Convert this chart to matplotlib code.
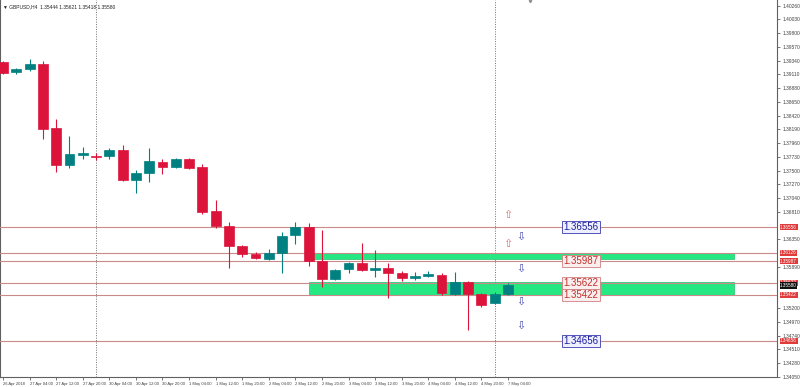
import numpy as np
import matplotlib
matplotlib.use("Agg")
import matplotlib.pyplot as plt
import matplotlib.transforms as mtransforms

plt.rcParams['font.family'] = ['Liberation Sans', 'DejaVu Sans']

# -----------------------------
# GBPUSD H4 candles
# -----------------------------
opens = [1.39316, 1.39149, 1.39199, 1.39282, 1.38213, 1.37595, 1.37762, 1.37745,
         1.37745, 1.37845, 1.37344, 1.37461, 1.37645, 1.37561, 1.37695, 1.37561,
         1.36826, 1.36575, 1.36241, 1.36108, 1.36024, 1.36124, 1.36425, 1.36559,
         1.35991, 1.35690, 1.35857, 1.35957, 1.35840, 1.35874, 1.35790, 1.35707,
         1.35740, 1.35757, 1.35439, 1.35640, 1.35439, 1.35289, 1.35444]
highs = [1.39333, 1.39216, 1.39366, 1.39333, 1.38363, 1.38079, 1.37896, 1.37795,
         1.37879, 1.37929, 1.37511, 1.37879, 1.37695, 1.37712, 1.37712, 1.37611,
         1.37010, 1.36642, 1.36258, 1.36141, 1.36191, 1.36475, 1.36642, 1.36626,
         1.36509, 1.35857, 1.35974, 1.36291, 1.36174, 1.35957, 1.35824, 1.35807,
         1.35824, 1.35790, 1.35807, 1.35656, 1.35456, 1.35473, 1.35621]
lows = [1.39120, 1.39115, 1.39165, 1.38029, 1.37478, 1.37545, 1.37695, 1.37678,
        1.37695, 1.37327, 1.37127, 1.37311, 1.37444, 1.37545, 1.37528, 1.36776,
        1.36542, 1.35874, 1.36057, 1.36024, 1.36007, 1.35790, 1.36275, 1.35907,
        1.35556, 1.35673, 1.35790, 1.35824, 1.35723, 1.35372, 1.35656, 1.35673,
        1.35723, 1.35423, 1.35423, 1.34838, 1.35222, 1.35272, 1.35418]
closes = [1.39132, 1.39199, 1.39282, 1.38196, 1.37595, 1.37779, 1.37795, 1.37728,
          1.37845, 1.37344, 1.37461, 1.37662, 1.37561, 1.37695, 1.37545, 1.36809,
          1.36575, 1.36241, 1.36108, 1.36041, 1.36124, 1.36408, 1.36559, 1.35991,
          1.35690, 1.35840, 1.35957, 1.35840, 1.35874, 1.35790, 1.35707, 1.35740,
          1.35773, 1.35456, 1.35640, 1.35439, 1.35255, 1.35439, 1.35580]

# time axis labels (bar index -> text)
label_bars = [0, 2, 4, 6, 8, 10, 12, 14, 16, 18, 20, 22, 24, 26, 28, 30, 32, 34, 36, 38]
label_texts = ["26 Apr 2018", "27 Apr 04:00", "27 Apr 12:00", "27 Apr 20:00",
               "30 Apr 04:00", "30 Apr 12:00", "30 Apr 20:00", "1 May 04:00",
               "1 May 12:00", "1 May 20:00", "2 May 04:00", "2 May 12:00",
               "2 May 20:00", "3 May 04:00", "3 May 12:00", "3 May 20:00",
               "4 May 04:00", "4 May 12:00", "4 May 20:00", "7 May 04:00"]

# horizontal levels
levels = [1.36556, 1.36126, 1.35987, 1.35622, 1.35422, 1.34656]
level_boxes = [1.36556, 1.35987, 1.35622, 1.35422, 1.34656]
box_kind = ["blue", "red", "red", "red", "blue"]
last_price = 1.35580

# supply / demand zones (bar start, bar end, top, bottom)
zone_start = [23, 23]
zone_end = [55, 55]
zone_top = [1.36126, 1.35630]
zone_bottom = [1.36015, 1.35422]

# arrow signals
up_bars = [38, 38]
up_prices = [1.36759, 1.36275]
down_bars = [39, 39, 39, 39]
down_prices = [1.36392, 1.35857, 1.35306, 1.34905]

separator_bars = [7, 37]

bull = "#008080"
bear = "#dc143c"
level_col = "#c98a8a"
zone_col = "#25e882"

# -----------------------------
# Figure
# -----------------------------
fig = plt.figure(figsize=(8, 3.87), dpi=100)
ax = fig.add_axes([0.0, 10/387, 777/800, 1 - 10/387])

x = np.arange(len(opens))
o = np.array(opens); h = np.array(highs); l = np.array(lows); c = np.array(closes)
up = c >= o
cols = np.where(up, bull, bear)

ax.vlines(x, l, h, colors=cols, linewidth=0.8, zorder=4)
body_lo = np.minimum(o, c)
body_h = np.maximum(np.abs(c - o), 0.00003)
ax.bar(x, body_h, bottom=body_lo, width=0.75, color=cols, edgecolor=cols,
       linewidth=0.5, zorder=5)

for s, e, t, b in zip(zone_start, zone_end, zone_top, zone_bottom):
    ax.add_patch(plt.Rectangle((s, b), e - s, t - b, facecolor=zone_col,
                               edgecolor="#1fc46c", linewidth=0.5, zorder=2))

for lv in levels:
    ax.axhline(lv, color=level_col, linewidth=0.8, zorder=3)

for sb in separator_bars:
    ax.axvline(sb, color="#707070", linestyle=(0, (1, 1.5)), linewidth=0.7, zorder=1)

for bx, p in zip(up_bars, up_prices):
    ax.text(bx, p, "\u21e7", color="#e07070", fontsize=8, ha="center", va="center",
            zorder=6, family="DejaVu Sans")
for bx, p in zip(down_bars, down_prices):
    ax.text(bx, p, "\u21e9", color="#4a4ab0", fontsize=8, ha="center", va="center",
            zorder=6, family="DejaVu Sans")

for p, k in zip(level_boxes, box_kind):
    if k == "blue":
        tc, fc, ec = "#1c1c9c", "#eef0ff", "#3a3ab0"
    else:
        tc, fc, ec = "#c0302a", "#fbeeee", "#d08080"
    ax.text(43.5, p, "{:.5f}".format(p), color=tc, fontsize=7, ha="center", va="center",
            zorder=7, bbox=dict(boxstyle="square,pad=0.12", fc=fc, ec=ec, lw=0.6))

ax.set_xlim(-0.23, 58.25)
ax.set_ylim(1.34052, 1.40352)

# right price scale
yt = np.round(1.40260 - 0.0023 * np.arange(28), 5)
marked = levels + [last_price]
yt = [v for v in yt if min(abs(v - m) for m in marked) > 0.0006]
ax.yaxis.tick_right()
ax.set_yticks(yt)
ax.set_yticklabels(["{:.5f}".format(v) for v in yt])
ax.tick_params(axis="y", labelsize=3.5, length=2, width=0.5, pad=2, colors="#404040")

ax.set_xticks(label_bars)
ax.set_xticklabels(label_texts, ha="left")
ax.tick_params(axis="x", labelsize=3.0, length=2, width=0.5, pad=1.5, colors="#404040")

trans = mtransforms.blended_transform_factory(ax.transAxes, ax.transData)
for p in levels:
    ax.text(1.004, p, "{:.5f}".format(p), transform=trans, fontsize=3.3, color="white",
            ha="left", va="center", clip_on=False, zorder=8,
            bbox=dict(boxstyle="square,pad=0.12", fc="#e03a3a", ec="none"))
ax.text(1.004, last_price, "{:.5f}".format(last_price), transform=trans, fontsize=3.3,
        color="white", ha="left", va="center", clip_on=False, zorder=9,
        bbox=dict(boxstyle="square,pad=0.12", fc="#111111", ec="none"))

ax.spines["top"].set_visible(False)
for side in ["left", "right", "bottom"]:
    ax.spines[side].set_color("#606060")
    ax.spines[side].set_linewidth(0.8)

ax.text(0.004, 0.988, "\u25bc GBPUSD,H4  1.35444 1.35621 1.35418 1.35580", transform=ax.transAxes,
        fontsize=3.5, color="#202020", ha="left", va="top", family=["Liberation Sans", "DejaVu Sans"])
ax.plot([0.682], [0.997], marker="v", markersize=1.8, color="#909090",
        transform=ax.transAxes, clip_on=False)

fig.savefig("out.png", dpi=100)
